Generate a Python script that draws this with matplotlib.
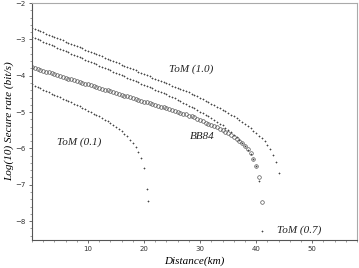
import numpy as np
import matplotlib
matplotlib.use("Agg")
import matplotlib.pyplot as plt
from matplotlib.ticker import MultipleLocator, FixedLocator

# ---------------- data ----------------
dist_tom10 = [i * 0.5 for i in range(89)]  # 0 .. 44 km
tom10 = [-2.68, -2.71, -2.74, -2.78, -2.81, -2.84, -2.87, -2.90, -2.93, -2.97,
         -3.00, -3.03, -3.06, -3.09, -3.12, -3.16, -3.19, -3.22, -3.25, -3.28,
         -3.32, -3.35, -3.38, -3.41, -3.44, -3.47, -3.51, -3.54, -3.57, -3.60,
         -3.63, -3.66, -3.70, -3.73, -3.76, -3.79, -3.82, -3.85, -3.89, -3.92,
         -3.95, -3.98, -4.01, -4.05, -4.08, -4.11, -4.14, -4.17, -4.20, -4.24,
         -4.27, -4.30, -4.33, -4.36, -4.39, -4.43, -4.46, -4.49, -4.52, -4.57,
         -4.61, -4.65, -4.69, -4.73, -4.77, -4.81, -4.86, -4.90, -4.94, -4.98,
         -5.03, -5.07, -5.12, -5.17, -5.22, -5.27, -5.32, -5.39, -5.45, -5.51,
         -5.58, -5.65, -5.72, -5.81, -5.91, -6.03, -6.17, -6.37, -6.67]

dist_tom07 = [i * 0.5 for i in range(83)]  # 0 .. 41 km
tom07 = [-2.93, -2.96, -3.00, -3.03, -3.06, -3.10, -3.13, -3.16, -3.19, -3.23,
         -3.26, -3.29, -3.33, -3.36, -3.39, -3.43, -3.46, -3.49, -3.52, -3.56,
         -3.59, -3.62, -3.66, -3.69, -3.72, -3.76, -3.79, -3.82, -3.85, -3.89,
         -3.92, -3.95, -3.99, -4.02, -4.05, -4.09, -4.12, -4.15, -4.18, -4.22,
         -4.25, -4.28, -4.32, -4.35, -4.38, -4.42, -4.45, -4.48, -4.51, -4.55,
         -4.58, -4.61, -4.66, -4.70, -4.74, -4.78, -4.82, -4.86, -4.90, -4.95,
         -4.99, -5.03, -5.08, -5.12, -5.17, -5.22, -5.27, -5.32, -5.37, -5.43,
         -5.49, -5.55, -5.62, -5.69, -5.76, -5.85, -5.94, -6.04, -6.15, -6.30,
         -6.49, -6.90, -8.27]

dist_bb84 = [i * 0.5 for i in range(83)]  # 0 .. 41 km
bb84 = [-3.77, -3.79, -3.82, -3.84, -3.86, -3.89, -3.91, -3.93, -3.96, -3.98,
        -4.00, -4.03, -4.05, -4.08, -4.10, -4.12, -4.15, -4.17, -4.19, -4.22,
        -4.24, -4.26, -4.29, -4.31, -4.33, -4.36, -4.38, -4.40, -4.43, -4.45,
        -4.48, -4.50, -4.52, -4.55, -4.57, -4.59, -4.62, -4.64, -4.66, -4.69,
        -4.71, -4.73, -4.76, -4.78, -4.80, -4.83, -4.85, -4.87, -4.90, -4.92,
        -4.95, -4.97, -4.99, -5.02, -5.04, -5.06, -5.10, -5.12, -5.15, -5.19,
        -5.22, -5.25, -5.29, -5.32, -5.35, -5.39, -5.42, -5.46, -5.50, -5.54,
        -5.59, -5.63, -5.68, -5.74, -5.80, -5.86, -5.94, -6.03, -6.14, -6.28,
        -6.48, -6.78, -7.47]

dist_tom01 = [0.0, 0.5, 1.0, 1.5, 2.0, 2.5, 3.0, 3.5, 4.0, 4.5,
              5.0, 5.5, 6.0, 6.5, 7.0, 7.5, 8.0, 8.5, 9.0, 9.5,
              10.0, 10.5, 11.0, 11.5, 12.0, 12.5, 13.0, 13.5, 14.0, 14.5,
              15.0, 15.5, 16.0, 16.5, 17.0, 17.5, 18.0, 18.5, 19.0, 19.5,
              20.0, 20.5, 20.65]
tom01 = [-4.24, -4.28, -4.31, -4.35, -4.38, -4.42, -4.45, -4.49, -4.52, -4.56,
         -4.59, -4.63, -4.66, -4.70, -4.73, -4.77, -4.80, -4.84, -4.88, -4.92,
         -4.96, -5.00, -5.04, -5.08, -5.12, -5.17, -5.21, -5.26, -5.30, -5.35,
         -5.40, -5.46, -5.52, -5.60, -5.67, -5.76, -5.86, -5.97, -6.10, -6.27,
         -6.53, -7.13, -7.45]

x_ticks = [10, 20, 30, 40, 50]
y_ticks = [-2, -3, -4, -5, -6, -7, -8]

# ---------------- figure ----------------
fig = plt.figure(figsize=(3.59, 2.68), dpi=100)
ax = fig.add_axes([0.0891, 0.1045, 0.9053, 0.8843])

dot_kw = dict(linestyle="none", marker="+", markersize=1.6, markeredgewidth=0.5,
              color="#444444")
ax.plot(dist_tom10, tom10, **dot_kw)
ax.plot(dist_tom07, tom07, **dot_kw)
ax.plot(dist_tom01, tom01, **dot_kw)
ax.plot(dist_bb84, bb84, linestyle="none", marker="o", markersize=2.6,
        markerfacecolor="none", markeredgewidth=0.5, markeredgecolor="#555555")

ax.set_xlim(0, 58)
ax.set_ylim(-8.52, -2)
ax.xaxis.set_major_locator(FixedLocator(x_ticks))
ax.yaxis.set_major_locator(FixedLocator(y_ticks))
ax.xaxis.set_minor_locator(MultipleLocator(2))
ax.yaxis.set_minor_locator(MultipleLocator(0.2))
ax.tick_params(axis="both", which="major", labelsize=5, length=2.5, width=0.5,
               direction="out", pad=2, colors="#333333")
ax.tick_params(axis="both", which="minor", length=1.2, width=0.4,
               direction="out", colors="#555555")

for s in ["left", "bottom"]:
    ax.spines[s].set_color("#555555")
    ax.spines[s].set_linewidth(0.8)
for s in ["top", "right"]:
    ax.spines[s].set_color("#aaaaaa")
    ax.spines[s].set_linewidth(0.8)

serif = ["Liberation Serif", "DejaVu Serif"]
ax.set_xlabel("Distance(km)", family=serif, style="italic", fontsize=8,
              labelpad=3)
ax.set_ylabel("Log(10) Secure rate (bit/s)", family=serif, style="italic",
              fontsize=8, labelpad=1)

lab_kw = dict(family=serif, style="italic", fontsize=8, ha="center",
              va="center", color="#222222")
ax.text(28.4, -3.82, "ToM (1.0)", **lab_kw)
ax.text(30.4, -5.66, "BB84", **lab_kw)
ax.text(8.4, -5.83, "ToM (0.1)", **lab_kw)
ax.text(47.7, -8.24, "ToM (0.7)", **lab_kw)

fig.savefig("out.png", dpi=100)
